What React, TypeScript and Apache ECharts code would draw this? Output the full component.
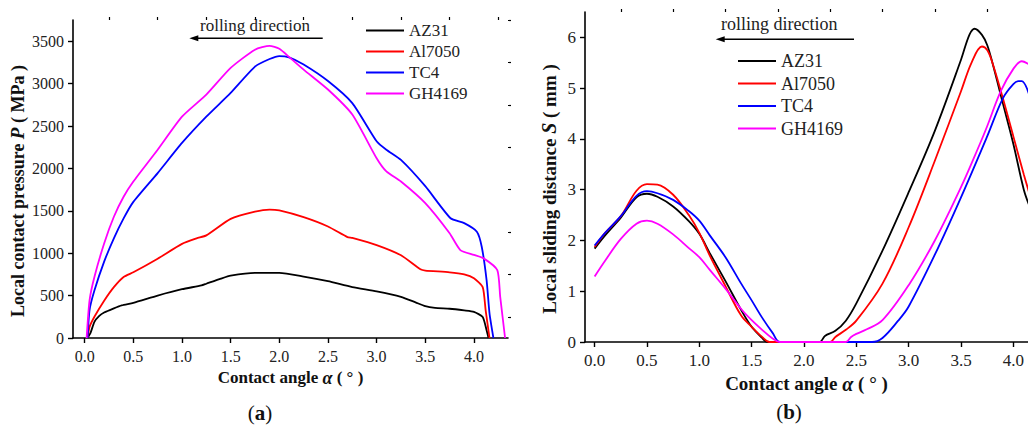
import React, { useEffect, useRef } from 'react';
import * as echarts from 'echarts';

const FONT = "'Liberation Serif', 'Times New Roman', serif";

const materials = ['AZ31', 'Al7050', 'TC4', 'GH4169'];
const colors = ['#000000', '#ff0000', '#0000ff', '#ff00ff'];

const xTicks = [0, 0.5, 1, 1.5, 2, 2.5, 3, 3.5, 4];
const xMinorTicks = [0.25, 0.75, 1.25, 1.75, 2.25, 2.75, 3.25, 3.75, 4.25];
const pTicks = [0, 500, 1000, 1500, 2000, 2500, 3000, 3500];
const pMinorTicks = [250, 750, 1250, 1750, 2250, 2750, 3250, 3750];
const sTicks = [0, 1, 2, 3, 4, 5, 6];
const sMinorTicks = [0.5, 1.5, 2.5, 3.5, 4.5, 5.5, 6.5];

// (a) local contact pressure P (MPa) vs contact angle
const pressureAZ31 = [[0.03,0],[0.06,60],[0.1,190],[0.15,260],[0.2,300],[0.3,350],[0.38,385],[0.5,415],[0.75,500],[1.0,575],[1.2,620],[1.25,640],[1.4,700],[1.5,735],[1.75,768],[2.0,768],[2.25,725],[2.5,670],[2.75,600],[3.0,550],[3.25,485],[3.4,420],[3.5,375],[3.6,355],[3.75,345],[3.9,325],[4.0,308],[4.09,248],[4.13,91],[4.15,0]];
const pressureAl7050 = [[0.03,0],[0.05,130],[0.1,250],[0.2,440],[0.3,600],[0.4,720],[0.5,775],[0.75,935],[1.0,1110],[1.15,1175],[1.25,1210],[1.5,1405],[1.75,1490],[1.9,1515],[2.0,1505],[2.25,1425],[2.5,1315],[2.7,1190],[2.75,1180],[3.0,1095],[3.25,975],[3.45,810],[3.5,795],[3.75,775],[3.9,750],[4.0,705],[4.09,600],[4.12,330],[4.16,0]];
const pressureTC4 = [[0.03,0],[0.05,330],[0.1,560],[0.2,900],[0.3,1175],[0.4,1410],[0.5,1605],[0.75,1945],[1.0,2300],[1.25,2610],[1.5,2890],[1.75,3200],[1.9,3290],[2.0,3325],[2.1,3310],[2.25,3225],[2.5,3030],[2.75,2770],[3.0,2320],[3.1,2220],[3.25,2100],[3.5,1790],[3.76,1412],[3.9,1355],[4.03,1253],[4.08,1076],[4.13,682],[4.16,290],[4.2,0]];
const pressureGH4169 = [[0.02,0],[0.05,445],[0.1,720],[0.2,1115],[0.3,1430],[0.4,1665],[0.5,1845],[0.75,2220],[1.0,2610],[1.25,2870],[1.5,3185],[1.75,3400],[1.9,3445],[2.0,3410],[2.1,3315],[2.25,3165],[2.5,2930],[2.75,2635],[3.0,2120],[3.1,1965],[3.25,1845],[3.5,1590],[3.75,1235],[3.86,1037],[4.0,980],[4.1,939],[4.24,800],[4.27,485],[4.32,0]];

// (b) local sliding distance S (mm) vs contact angle
const slidingAZ31 = [[0,1.84],[0.1,2.1],[0.25,2.45],[0.4,2.85],[0.5,2.92],[0.6,2.86],[0.75,2.67],[0.9,2.38],[1.0,2.13],[1.1,1.75],[1.25,1.2],[1.4,0.63],[1.5,0.3],[1.6,0.08],[1.65,0],[2.15,0],[2.2,0.12],[2.3,0.22],[2.4,0.42],[2.5,0.76],[2.75,1.8],[3.0,2.95],[3.25,4.16],[3.5,5.56],[3.58,6.05],[3.63,6.17],[3.7,6.05],[3.75,5.85],[3.8,5.5],[3.9,4.7],[4.0,3.9],[4.1,3.0],[4.15,2.7]];
const slidingAl7050 = [[0,1.87],[0.1,2.15],[0.25,2.48],[0.4,2.98],[0.5,3.11],[0.6,3.1],[0.75,2.9],[0.9,2.5],[1.0,2.15],[1.1,1.7],[1.25,1.1],[1.4,0.52],[1.5,0.3],[1.6,0.1],[1.67,0],[2.25,0],[2.3,0.1],[2.4,0.24],[2.5,0.42],[2.75,1.15],[3.0,2.26],[3.25,3.57],[3.5,4.94],[3.6,5.5],[3.7,5.82],[3.75,5.75],[3.8,5.5],[3.9,4.8],[4.0,4.05],[4.1,3.3],[4.15,2.95]];
const slidingTC4 = [[0,1.9],[0.1,2.15],[0.25,2.48],[0.4,2.88],[0.5,2.97],[0.6,2.93],[0.75,2.8],[0.9,2.58],[1.0,2.39],[1.1,2.1],[1.25,1.67],[1.4,1.15],[1.5,0.82],[1.6,0.48],[1.7,0.18],[1.77,0],[2.65,0],[2.75,0.08],[2.9,0.42],[3.0,0.7],[3.25,1.72],[3.5,2.85],[3.75,4.05],[3.9,4.8],[4.0,5.08],[4.05,5.14],[4.08,5.14],[4.15,4.88]];
const slidingGH4169 = [[0,1.29],[0.1,1.6],[0.25,2.03],[0.4,2.33],[0.5,2.39],[0.6,2.33],[0.75,2.12],[0.9,1.85],[1.0,1.67],[1.1,1.42],[1.25,1.05],[1.4,0.65],[1.5,0.43],[1.6,0.24],[1.7,0.07],[1.77,0],[2.4,0],[2.45,0.1],[2.5,0.16],[2.6,0.25],[2.75,0.43],[3.0,1.12],[3.25,2.0],[3.5,3.05],[3.68,3.9],[3.75,4.25],[3.88,4.94],[4.0,5.38],[4.08,5.53],[4.15,5.47]];

const pressureSeries = [pressureAZ31, pressureAl7050, pressureTC4, pressureGH4169];
const slidingSeries = [slidingAZ31, slidingAl7050, slidingTC4, slidingGH4169];

const axisLine = { show: true, onZero: false, lineStyle: { color: '#000', width: 1.6 } };

function nameStyle(size: number, pad?: number[]) {
  return {
    fontFamily: FONT, fontWeight: 'bold', fontSize: size, color: '#111', padding: pad || 0,
    rich: {
      r: { fontFamily: FONT, fontWeight: 'bold', fontSize: size, color: '#111' },
      i: { fontFamily: FONT, fontStyle: 'italic', fontWeight: 'bold', fontSize: size + 1, color: '#111' },
    },
  };
}

function majorX(gridIndex: number, min: number, max: number, fontSize: number, name: string, nameSize: number, nameGap: number) {
  return {
    type: 'value', gridIndex, min, max,
    axisLine,
    splitLine: { show: false },
    axisTick: { show: true, inside: false, length: 5, customValues: xTicks, lineStyle: { color: '#000', width: 1.4 } },
    axisLabel: {
      show: true, customValues: xTicks, margin: 10, fontFamily: FONT, fontSize, color: '#222',
      formatter: (v: number) => '{t|' + Number(v).toFixed(1) + '}',
      rich: { t: { fontFamily: FONT, fontSize, color: '#222' } },
    },
    name, nameLocation: 'middle', nameGap,
    nameTextStyle: nameStyle(nameSize),
  };
}
function minorX(gridIndex: number, min: number, max: number) {
  return {
    type: 'value', gridIndex, min, max,
    axisLine: { show: false, onZero: false },
    splitLine: { show: false },
    axisLabel: { show: false },
    axisTick: { show: true, length: 3, customValues: xMinorTicks, lineStyle: { color: '#000', width: 1.2 } },
  };
}
function majorY(gridIndex: number, max: number, ticks: number[], fontSize: number, name: string, nameSize: number, nameGap: number, shift: number) {
  return {
    type: 'value', gridIndex, min: 0, max,
    axisLine,
    splitLine: { show: false },
    axisTick: { show: true, length: 5, customValues: ticks, lineStyle: { color: '#000', width: 1.4 } },
    axisLabel: {
      show: true, customValues: ticks, margin: 9, fontFamily: FONT, fontSize, color: '#222',
      formatter: (v: number) => '{t|' + String(Number(v)) + '}',
      rich: { t: { fontFamily: FONT, fontSize, color: '#222' } },
    },
    name, nameLocation: 'middle', nameRotate: 90, nameGap,
    nameTextStyle: nameStyle(nameSize, [0, shift, 0, 0]),
  };
}
function minorY(gridIndex: number, max: number, ticks: number[]) {
  return {
    type: 'value', gridIndex, min: 0, max,
    axisLine: { show: false, onZero: false },
    splitLine: { show: false },
    axisLabel: { show: false },
    axisTick: { show: true, length: 3, customValues: ticks, lineStyle: { color: '#000', width: 1.2 } },
  };
}

function arrow(x1: number, x2: number, y: number) {
  return [
    { type: 'line', shape: { x1, y1: y, x2: x2 + 6, y2: y }, style: { stroke: '#000', lineWidth: 1.5 } },
    { type: 'polygon', shape: { points: [[x2, y], [x2 + 9, y - 3], [x2 + 9, y + 3]] }, style: { fill: '#000' } },
  ];
}

export default function App() {
  const ref = useRef<HTMLDivElement>(null);
  useEffect(() => {
    if (!ref.current) return;
    const chart = echarts.init(ref.current, undefined, { renderer: 'svg' });
    const series: any[] = [];
    materials.forEach((m, i) => {
      series.push({
        name: m, type: 'line', xAxisIndex: 0, yAxisIndex: 0, data: pressureSeries[i], smooth: 0.2,
        symbol: 'none', lineStyle: { color: colors[i], width: 1.8 }, itemStyle: { color: colors[i] },
      });
    });
    materials.forEach((m, i) => {
      series.push({
        name: m, type: 'line', xAxisIndex: 2, yAxisIndex: 2, data: slidingSeries[i], smooth: 0.35,
        symbol: 'none', lineStyle: { color: colors[i], width: 1.8 }, itemStyle: { color: colors[i] },
      });
    });
    const legendCommon = {
      data: materials, orient: 'vertical', itemWidth: 38, itemHeight: 14, padding: 0, selectedMode: false,
      itemStyle: { opacity: 0, borderWidth: 0 },
    };
    chart.setOption({
      animation: false,
      backgroundColor: '#ffffff',
      textStyle: { fontFamily: FONT },
      grid: [
        { left: 73, top: 20, width: 435, height: 318 },
        { left: 585, top: 12, width: 443, height: 330 },
      ],
      xAxis: [
        majorX(0, -0.12, 4.35, 16, '{r|Contact angle }{i|α}{r| ( ° )}', 17, 29),
        minorX(0, -0.12, 4.35),
        majorX(1, -0.092, 4.14, 17, '{r|Contact angle }{i|α}{r| ( ° )}', 19, 29),
        minorX(1, -0.092, 4.14),
      ],
      yAxis: [
        majorY(0, 3750, pTicks, 16, '{r|Local contact pressure }{i|P}{r| ( MPa )}', 18, 46, 24),
        minorY(0, 3750, pMinorTicks),
        majorY(1, 6.5, sTicks, 17, '{r|Local sliding distance }{i|S}{r| ( mm )}', 19, 26, 24),
        minorY(1, 6.5, sMinorTicks),
      ],
      legend: [
        { ...legendCommon, left: 365, top: 22, itemGap: 4, textStyle: { fontFamily: FONT, fontSize: 17, color: '#222' } },
        { ...legendCommon, left: 737, top: 52, itemGap: 4.5, textStyle: { fontFamily: FONT, fontSize: 18, color: '#222' } },
      ],
      graphic: [
        { type: 'text', left: 200, top: 17, style: { text: 'rolling direction', fontFamily: FONT, fontSize: 17, fill: '#222' } },
        ...arrow(322.7, 189.3, 38.3),
        { type: 'text', left: 721, top: 15, style: { text: 'rolling direction', fontFamily: FONT, fontSize: 18, fill: '#222' } },
        ...arrow(854, 715.7, 39.3),
        {
          type: 'text', x: 260, y: 413,
          style: {
            text: '({b|a})', align: 'center', verticalAlign: 'middle', fontFamily: FONT, fontSize: 21, fill: '#111',
            rich: { b: { fontFamily: FONT, fontWeight: 'bold', fontSize: 21, fill: '#111' } },
          },
        },
        {
          type: 'text', x: 789, y: 411.7,
          style: {
            text: '({b|b})', align: 'center', verticalAlign: 'middle', fontFamily: FONT, fontSize: 21, fill: '#111',
            rich: { b: { fontFamily: FONT, fontWeight: 'bold', fontSize: 21, fill: '#111' } },
          },
        },
      ],
      series,
    });
    return () => chart.dispose();
  }, []);
  return (
    <div
      ref={ref}
      style={{ position: 'fixed', left: 0, top: 0, width: 1028, height: 429, background: '#fff' }}
    />
  );
}
